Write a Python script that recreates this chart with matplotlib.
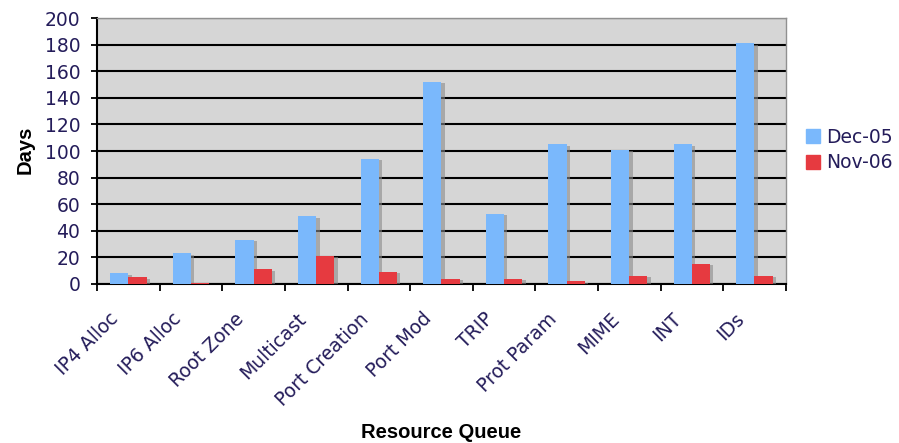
import matplotlib
matplotlib.use("Agg")
import matplotlib.pyplot as plt
import matplotlib.patheffects as pe
import matplotlib.transforms as mtrans
from matplotlib.patches import Patch
import numpy as np

# queue backlog, in days
queues = ["IP4 Alloc", "IP6 Alloc", "Root Zone", "Multicast", "Port Creation",
          "Port Mod", "TRIP", "Prot Param", "MIME", "INT", "IDs"]
dec_05 = [8, 23, 33, 51, 94, 152, 53, 105, 101, 105, 181]
nov_06 = [5, 1, 11, 21, 9, 4, 4, 2, 6, 15, 6]

BLUE = "#7ab8fc"
RED = "#e63a40"
TEXT = "#241c5a"

fig = plt.figure(figsize=(8.99, 4.43), dpi=100)
ax = fig.add_axes([0.108, 0.359, 0.766, 0.600])
ax.set_facecolor("#d6d6d6")

x = np.arange(len(queues))
w = 0.29
shadow = [pe.SimplePatchShadow(offset=(2.5, -1), shadow_rgbFace="#8a8a8a", alpha=0.6), pe.Normal()]
ax.bar(x - w / 2, dec_05, w, color=BLUE, zorder=3, path_effects=shadow)
ax.bar(x + w / 2, nov_06, w, color=RED, zorder=3, path_effects=shadow)

ax.set_xlim(-0.5, len(queues) - 0.5)
ax.set_ylim(0, 200)
ax.set_yticks(range(0, 201, 20))
ax.yaxis.grid(True, color="black", linewidth=1.5, zorder=1)
ax.set_axisbelow(True)

# ticks sit between the categories, labels on the minor ticks
ax.set_xticks(np.arange(len(queues) + 1) - 0.5)
ax.set_xticklabels([])
ax.set_xticks(x, minor=True)
ax.set_xticklabels(queues, minor=True, rotation=45, ha="right", va="center",
                   rotation_mode="anchor", fontsize=13.5, color=TEXT)
ax.tick_params(axis="x", which="minor", length=0, pad=23)
ax.tick_params(axis="x", which="major", length=5, width=1.3, direction="out")
ax.tick_params(axis="y", length=4, width=1.3, pad=8, labelsize=13.5, labelcolor=TEXT)

shift = mtrans.ScaledTranslation(-13 / 100, 0, fig.dpi_scale_trans)
for lbl in ax.get_xticklabels(minor=True):
    lbl.set_transform(lbl.get_transform() + shift)

for side in ("top", "right"):
    ax.spines[side].set_color("#909090")
    ax.spines[side].set_linewidth(1)
ax.spines["left"].set_linewidth(1.5)
ax.spines["bottom"].set_linewidth(1.5)

fig.text(25 / 899, 1 - 150 / 443, "Days", rotation=90, ha="center", va="center",
         fontsize=14.5, fontweight="bold", family="Liberation Sans")
fig.text(441 / 899, 1 - 432 / 443, "Resource Queue", ha="center", va="center",
         fontsize=14.5, fontweight="bold", family="Liberation Sans")

# plain squares in the legend, no shadow
handles = [Patch(color=BLUE, label="Dec-05"), Patch(color=RED, label="Nov-06")]
ax.legend(handles=handles, loc="center left", bbox_to_anchor=(806 / 899, 1 - 150 / 443),
          bbox_transform=fig.transFigure, frameon=False, fontsize=13.5,
          borderpad=0, borderaxespad=0, handlelength=0.75, handleheight=0.75,
          handletextpad=0.3, labelspacing=0.35, labelcolor=TEXT)

fig.savefig("out.png", dpi=100)
